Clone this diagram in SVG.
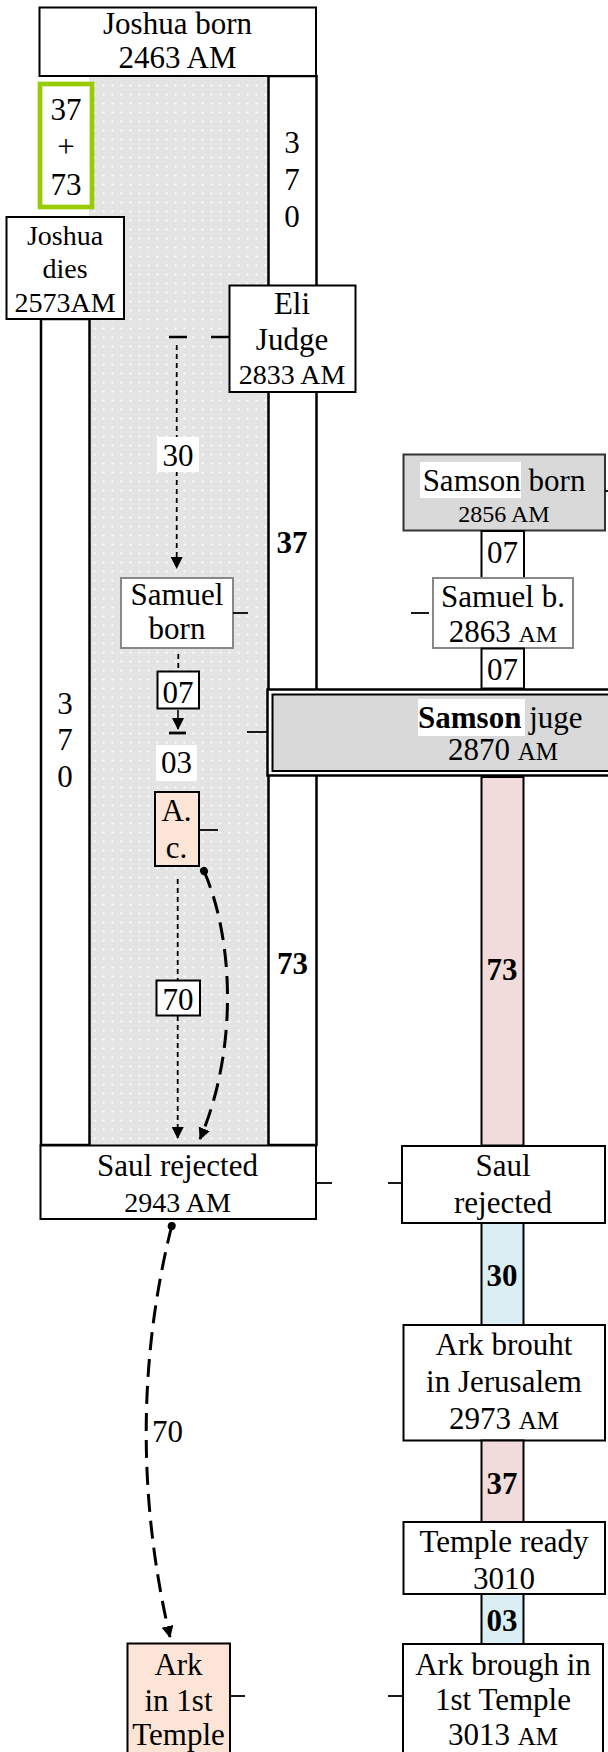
<svg xmlns="http://www.w3.org/2000/svg" width="608" height="1752" viewBox="0 0 608 1752">
<style>
.t{font-family:"Liberation Serif","Times New Roman",serif;font-size:31px;text-anchor:middle;fill:#000}
.d{font-size:28px}
.s{font-size:24px}
.b{font-weight:bold}
.box{fill:#fff;stroke:#000;stroke-width:2}
.gb{fill:#fff;stroke:#888;stroke-width:2}
.col{fill:#fff;stroke:#000;stroke-width:2.5}
.tick{stroke:#000;stroke-width:1.8;fill:none}
.dot{stroke:#000;stroke-width:1.8;fill:none;stroke-dasharray:5 4}
.long{stroke:#000;stroke-width:3;fill:none;stroke-dasharray:18 9}
</style>
<defs>
<pattern id="dots" width="9" height="9" patternUnits="userSpaceOnUse">
<rect width="9" height="9" fill="#e4e4e4"/>
<circle cx="4.5" cy="4.5" r="1.1" fill="#fff"/>
</pattern>
<marker id="ah" markerUnits="userSpaceOnUse" markerWidth="14" markerHeight="14" refX="11" refY="6" orient="auto">
<path d="M0,0 L12,6 L0,12 Z" fill="#000"/>
</marker>
<marker id="sd" markerUnits="userSpaceOnUse" markerWidth="10" markerHeight="10" refX="5" refY="5" orient="auto">
<circle cx="5" cy="5" r="4" fill="#000"/>
</marker>
</defs>
<rect x="89" y="76" width="179" height="1069" fill="url(#dots)"/>
<g id="col-right"><rect class="col" x="268.5" y="76" width="48" height="1069"/>
<text class="t" x="292" y="153" font-size="30">3</text><text class="t" x="292" y="190" font-size="30">7</text><text class="t" x="292" y="227" font-size="30">0</text>
<text class="t b" x="292" y="553" font-size="30">37</text>
<text class="t b" x="292.5" y="974" font-size="30">73</text></g>
<g id="col-left"><rect class="col" x="41" y="319" width="48.5" height="826"/>
<text class="t" x="65" y="714" font-size="30">3</text><text class="t" x="65" y="750" font-size="30">7</text><text class="t" x="65" y="787" font-size="30">0</text></g>
<g id="joshua-born"><rect class="box" x="39.5" y="7.5" width="276.5" height="68.5"/>
<text class="t" x="177.5" y="34" font-size="29">Joshua born</text><text class="t" x="177.5" y="68" font-size="29">2463 AM</text></g>
<g id="sum"><rect x="40" y="84" width="52" height="123" fill="#fff" stroke="#99cc00" stroke-width="4.7"/>
<text class="t" x="66" y="120" font-size="30">37</text><text class="t" x="66" y="157" font-size="30">+</text><text class="t" x="66" y="195" font-size="30">73</text></g>
<g id="joshua-dies"><rect class="box" x="6.5" y="217" width="117.5" height="102"/>
<text class="t d" x="65" y="245">Joshua</text><text class="t d" x="65" y="278">dies</text><text class="t d" x="65" y="312">2573AM</text></g>
<g id="eli"><rect class="box" x="229.5" y="285.5" width="126" height="106.5"/>
<text class="t" x="292" y="314">Eli</text><text class="t" x="292" y="350">Judge</text><text class="t d" x="292" y="384">2833 AM</text></g>
<g id="samuel-born"><rect class="gb" x="121" y="578" width="112" height="70"/>
<text class="t" x="177" y="605">Samuel</text><text class="t" x="177" y="639" font-size="25">born</text></g>
<g id="l07"><rect class="box" x="157.5" y="671.5" width="41.5" height="37"/><text class="t" x="178" y="703" font-size="30">07</text></g>
<g id="l03"><rect x="156" y="745" width="41" height="36" fill="#fff"/><text class="t" x="176.5" y="773" font-size="30">03</text></g>
<g id="ac"><rect x="155" y="792" width="44" height="74" fill="#fce4d6" stroke="#000" stroke-width="2"/>
<text class="t" x="176.5" y="821">A.</text><text class="t" x="176.5" y="858">c.</text></g>
<g id="samson-born"><rect x="403.5" y="454.5" width="201.5" height="76" fill="#d9d9d9" stroke="#333" stroke-width="2"/>
<rect x="420" y="462" width="101" height="36" fill="#fff"/>
<text class="t" x="504" y="491">Samson born</text><text class="t s" x="504" y="522">2856 AM</text></g>
<g id="r07a"><rect class="box" x="481.5" y="531" width="42.5" height="47"/><text class="t" x="502.5" y="563" font-size="30">07</text></g>
<g id="samuel-b"><rect class="gb" x="433" y="578" width="140" height="70"/>
<text class="t" x="503" y="607">Samuel b.</text><text class="t" x="503" y="642" font-size="29">2863 <tspan font-size="24">AM</tspan></text></g>
<g id="r07b"><rect class="box" x="481.5" y="648.5" width="42.5" height="40"/><text class="t" x="502.5" y="680" font-size="30">07</text></g>
<g id="samson-juge"><rect x="267.5" y="689.5" width="350" height="86" fill="#fff" stroke="#000" stroke-width="2.5"/>
<rect x="272.5" y="694.5" width="345" height="76.5" fill="#d9d9d9" stroke="#000" stroke-width="2"/>
<rect x="418" y="699" width="107" height="37" fill="#fff"/>
<text class="t" x="418" y="728" style="text-anchor:start"><tspan class="b">Samson</tspan> juge</text>
<text class="t" x="503" y="760" font-size="29">2870 <tspan font-size="25">AM</tspan></text></g>
<g id="l70"><rect class="box" x="156.5" y="980.5" width="43.5" height="35"/><text class="t" x="178" y="1010" font-size="30">70</text></g>
<g id="pink73"><rect x="481.5" y="777" width="42" height="368.5" fill="#f2dcdb" stroke="#000" stroke-width="2"/><text class="t b" x="502" y="980" font-size="30">73</text></g>
<g id="saul-left"><rect class="box" x="40.5" y="1145.5" width="275.5" height="73.5"/>
<text class="t" x="177.5" y="1176">Saul rejected</text><text class="t d" x="177.5" y="1212">2943 AM</text></g>
<g id="saul-right"><rect class="box" x="402" y="1146" width="203" height="77"/>
<text class="t" x="503" y="1176">Saul</text><text class="t" x="503" y="1213">rejected</text></g>
<g id="blue30"><rect x="481.5" y="1223" width="42" height="102" fill="#daeef3" stroke="#000" stroke-width="2"/><text class="t b" x="502" y="1286" font-size="30">30</text></g>
<g id="ark-jerusalem"><rect class="box" x="403.5" y="1325" width="201.5" height="115.5"/>
<text class="t" x="504" y="1355">Ark brouht</text><text class="t" x="504" y="1392">in Jerusalem</text><text class="t" x="504" y="1429" font-size="30">2973 <tspan font-size="25">AM</tspan></text></g>
<g id="pink37"><rect x="481.5" y="1440.5" width="42" height="81.5" fill="#f2dcdb" stroke="#000" stroke-width="2"/><text class="t b" x="502" y="1494" font-size="30">37</text></g>
<g id="temple-ready"><rect class="box" x="403.5" y="1522" width="201.5" height="72"/>
<text class="t" x="504" y="1552">Temple ready</text><text class="t" x="504" y="1589">3010</text></g>
<g id="blue03"><rect x="481.5" y="1594" width="42" height="50" fill="#daeef3" stroke="#000" stroke-width="2"/><text class="t b" x="502" y="1631" font-size="30">03</text></g>
<g id="ark-temple"><rect class="box" x="403" y="1644" width="200" height="130"/>
<text class="t" x="503" y="1675">Ark brough in</text><text class="t" x="503" y="1710">1st Temple</text><text class="t" x="503" y="1745" font-size="30">3013 <tspan font-size="25">AM</tspan></text></g>
<g id="ark-1st"><rect x="127.5" y="1643.5" width="102.5" height="130" fill="#fce4d6" stroke="#000" stroke-width="2"/>
<text class="t" x="178.5" y="1675">Ark</text><text class="t" x="178.5" y="1711">in 1st</text><text class="t" x="178.5" y="1745">Temple</text></g>
<g id="connectors">
<line x1="169" y1="337" x2="229" y2="337" stroke="#000" stroke-width="2.5" stroke-dasharray="18 24"/>
<line class="dot" x1="176.7" y1="345" x2="176.7" y2="568" marker-end="url(#ah)"/>
<rect x="157" y="437" width="42" height="35" fill="#fff"/><text class="t" x="178" y="466" font-size="30">30</text>
<line class="dot" x1="178.3" y1="654" x2="178.3" y2="671"/>
<line x1="178" y1="710" x2="178" y2="729" stroke="#000" stroke-width="1.6" marker-end="url(#ah)"/>
<line x1="169" y1="733" x2="186" y2="733" stroke="#000" stroke-width="2.8"/>
<line class="dot" x1="177.7" y1="879" x2="177.7" y2="980"/>
<line class="dot" x1="177.7" y1="1016" x2="177.7" y2="1138" marker-end="url(#ah)"/>
<path class="long" d="M204,871 C234,940 238,1050 200,1139" marker-start="url(#sd)" marker-end="url(#ah)"/>
<path class="long" d="M171.7,1226 C138,1360 138,1500 170,1637" marker-start="url(#sd)" marker-end="url(#ah)"/>
<text class="t" x="152" y="1442" style="text-anchor:start">70</text>
<line class="tick" x1="233" y1="613" x2="248" y2="613"/>
<line class="tick" x1="247" y1="732" x2="267" y2="732"/>
<line class="tick" x1="199" y1="830" x2="218" y2="830"/>
<line class="tick" x1="316" y1="1183" x2="332" y2="1183"/>
<line class="tick" x1="388" y1="1183" x2="402" y2="1183"/>
<line class="tick" x1="411" y1="613" x2="429" y2="613"/>
<line class="tick" x1="605" y1="491" x2="608" y2="491"/>
<line class="tick" x1="230" y1="1696" x2="245" y2="1696"/>
<line class="tick" x1="388" y1="1696" x2="403" y2="1696"/>
</g>
</svg>
